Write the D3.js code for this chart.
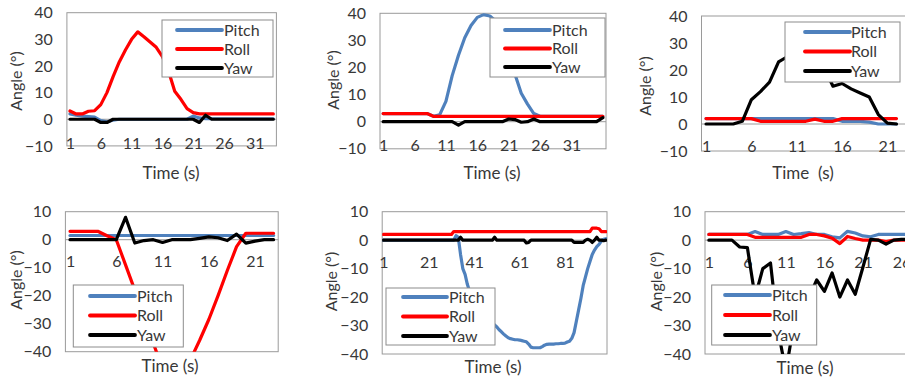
<!DOCTYPE html>
<html><head><meta charset="utf-8">
<script src="https://cdn.jsdelivr.net/npm/d3@7"></script>
<style>
html,body{margin:0;padding:0;background:#fff;}
svg{display:block;font-family:Lato,"Open Sans",sans-serif;}
</style></head><body>
<svg id="chart" width="905" height="379"></svg>
<script>
// ---------------- data ----------------
const seriesNames = ["Pitch", "Roll", "Yaw"];
const seriesColors = ["#4f81bd", "#ff0000", "#000000"];
const yTicksTop = [-10, 0, 10, 20, 30, 40];
const yTicksBottom = [-40, -30, -20, -10, 0, 10];
const xTicks1 = [1, 6, 11, 16, 21, 26, 31];
const xTicks2 = [1, 6, 11, 16, 21, 26, 31];
const xTicks3 = [1, 6, 11, 16, 21];
const xTicks4 = [1, 6, 11, 16, 21];
const xTicks5 = [1, 21, 41, 61, 81];
const xTicks6 = [1, 6, 11, 16, 21, 26];
const xTitles = ["Time (s)", "Time (s)", "Time  (s)", "Time (s)", "Time (s)", "Time (s)"];
const yTitle = "Angle (°)";

const pitch1 = [2,1.5,1.2,1,0.8,-0.5,-1,-0.3,0,0,0,0,0,0,0,0,0,0,0,0,1.2,0.5,0.2,0.2,0.2,0.2,0.2,0.2,0.2,0.2,0.2,0.2,0.2,0.2];
const roll1  = [3.1,2,2,3,3.2,5.5,10,16,21.5,26,30,32.8,31,29,27,23.5,18,10.5,7.5,4,2.5,2,2,2,2,2,2,2,2,2,2,2,2,2];
const yaw1   = [0,0,0,0,0,-1.2,-1.2,0,0,0,0,0,0,0,0,0,0,0,0,0,0,-1.2,1.5,0,0,0,0,0,0,0,0,0,0,0];

const pitch2 = [3,3,3,3,3,3,3,3,2,2.5,7.5,17,24.5,31,35.5,38.5,39.5,39,37,32.5,26,17.5,10.5,6.5,3,2,2,2,2,2,2,2,2,2,2,2];
const roll2  = [3,3,3,3,3,3,3,3,2,2,2,2,2,2,2,2,2,2,2,2,2,2,2,2,2,2,2,2,2,2,2,2,2,2,2,2];
const yaw2   = [0,0,0,0,0,0,0,0,0,0,0,0,-1.3,0,0,0,0,0,0,0,1,0.8,-0.2,0,1,0,0,0,0,0,0,0,0,0,0,1.5];

const pitch3 = [2,2,2,2,2,2,2,2,2,2,2,2,2,2,2,1,1,1,0.7,0,0,0];
const roll3  = [2,2,2,2,2,2,1,1,1,1,1,1,1.8,1,1,2,2,2,2,2,2,2];
const yaw3   = [0,0,0,0,1,9,12,15.5,23,25,27,27.5,25,21,14,15,13,11.5,10,3.5,0.3,0];

const pitch4 = [1.5,1.5,1.5,1.5,1.5,1.5,1.5,1.5,1.5,1.5,1.5,1.5,1.5,1.5,1.5,1.5,1.5,1.5,1.5,1.5,1.5,1.5,1.5];
const roll4  = [3,3,3,3,1.4,0,-9,-18,-27,-37,-46,-50,-49,-43,-36,-28.5,-20,-11,-2.5,2.3,2.3,2.3,2.3];
const yaw4   = [0,0,0,0,0,0,8,-1.2,-0.3,0,-1,0,0,0,0.5,1,0.7,-0.3,2,-1.2,-0.5,0,0];

const pitch5 = [
  0,0,0,0,0,0,0,0,0,0,
  0,0,0,0,0,0,0,0,0,0,
  0,0,0,0,0,0,0,0,0,0,
  0,0,1.6,1,-5,-10,-12,-15.5,-18,-19.5,
  -21,-22,-23,-24,-25,-26,-27,-28,-29,-29.8,
  -30.5,-31.5,-32.2,-33,-33.7,-34.3,-34.6,-34.8,-35,-35,
  -35.1,-35.3,-35.5,-35.7,-36.5,-37.6,-37.8,-37.8,-37.8,-37.8,
  -37.4,-36.9,-36.6,-36.5,-36.5,-36.5,-36.4,-36.4,-36.3,-36.3,
  -36.2,-35.8,-35.5,-34.5,-32.5,-28.5,-24.5,-20.5,-16,-13,
  -10,-7.5,-5,-3.5,-2.3,-1.5,-0.3,0.3,0.5];
const roll5 = [
  2,2,2,2,2,2,2,2,2,2,
  2,2,2,2,2,2,2,2,2,2,
  2,2,2,2,2,2,2,2,2,2,
  2,3,3,3,3,3,3,3,3,3,
  3,3,3,3,3,3,3,3,3,3,
  3,3,3,3,3,3,3,3,3,3,
  3,3,3,3,3,3,3,3,3,3,
  3,3,3,3,3,3,3,3,3,3,
  3,3,3,3,3,3,3,3,3,3,
  3,3,4.2,4.2,4.2,4,3,3,3];
const yaw5 = [
  0,0,0,0,0,0,0,0,0,0,
  0,0,0,0,0,0,0,0,0,0,
  0,0,0,0,0,0,0,0,0,0,
  0,0,0,0,1,0,0,0,0,0,
  0,0,0,0,0,0,0,0,0,1,
  0,0,0,0,0,0,0,0,0,0,
  0,0,0,-1,-0.8,0,0,0,0,0,
  0,0,0,0,0,0,0,0,0,0,
  0,0,0,0,-0.8,-0.8,-0.8,-0.8,-0.8,0,
  0.3,0,-0.8,0,1,0,0,-0.2,0];

const pitch6 = [2,2,2,2,2,2,3,2,2,2,3,2,2.3,2.7,2,2,1.2,0.8,3.1,2.5,1.5,1.2,2,2,2,2,2];
const roll6  = [2,2,2,2,2,2,1,1,1,1,1,1,1,2,2,1.5,0.7,-1.2,1.3,0.6,0,0,0,-0.5,0,0,0];
const yaw6   = [0,0,0,0,-2.4,-2.6,-20,-10,-8,-32,-46,-30,-25,-20,-14,-18,-11.5,-20,-14,-19,-9.5,0.3,0,-1.4,0,0.3,0.3];

// ---------------- layout ----------------
const panels = [
  {series:[pitch1,roll1,yaw1], xTicks:xTicks1, yTicks:yTicksTop,
   box:{l:66.9,r:276.4,t:12.7,b:145.9}, borderR:276.4, xPad:18,
   leg:{x:162,y:20,w:111,h:57,rows:[30,49,68],s1:177,s2:222,tx:224},
   xt:[171,173], yt:[16.5,81]},
  {series:[pitch2,roll2,yaw2], xTicks:xTicks2, yTicks:yTicksTop,
   box:{l:380,r:606,t:13.3,b:148.8}, borderR:606, xPad:18,
   leg:{x:490,y:18,w:115,h:59,rows:[30,48.5,67],s1:505,s2:550,tx:552},
   xt:[492,173], yt:[333,80]},
  {series:[pitch3,roll3,yaw3], xTicks:xTicks3, yTicks:yTicksTop,
   box:{l:701.5,r:901,t:16,b:151}, borderR:912, xPad:17,
   leg:{x:785,y:22,w:115,h:60,rows:[32,51.5,71],s1:805,s2:850,tx:851},
   xt:[803,173], yt:[645,86]},
  {series:[pitch4,roll4,yaw4], xTicks:xTicks4, yTicks:yTicksBottom,
   box:{l:65.4,r:278.2,t:211.7,b:351.7}, borderR:278.2, xPad:16,
   leg:{x:73.3,y:285,w:110,h:62,rows:[296,315.5,335],s1:90,s2:135,tx:137},
   xt:[170,366.5], yt:[16.5,280]},
  {series:[pitch5,roll5,yaw5], xTicks:xTicks5, yTicks:yTicksBottom,
   box:{l:382.2,r:607,t:211.7,b:354}, borderR:607, xPad:16,
   leg:{x:386,y:288,w:109,h:57,rows:[297,316.5,336],s1:403,s2:447,tx:449},
   xt:[493,367], yt:[331.5,281.5]},
  {series:[pitch6,roll6,yaw6], xTicks:xTicks6, yTicks:yTicksBottom,
   box:{l:705,r:913,t:211.7,b:354}, borderR:913, xPad:16,
   leg:{x:711.7,y:285,w:105,h:60,rows:[295,315,335],s1:725,s2:770,tx:772},
   xt:[805,368], yt:[656.5,281.5]}
];

const svg = d3.select("#chart");
const FONT = 'Lato,"Open Sans",sans-serif';
const TXT = "#383838";
const TICK_FS = 16, LEG_FS = 16, TITLE_FS = 17;

panels.forEach((p, pi) => {
  const N = p.series[0].length;
  const cats = d3.range(1, N + 1);
  const x = d3.scalePoint().domain(cats).range([p.box.l, p.box.r]).padding(0.5);
  const y = d3.scaleLinear().domain(d3.extent(p.yTicks)).range([p.box.b, p.box.t]);
  const g = svg.append("g");

  const clipId = "clip" + pi;
  svg.append("clipPath").attr("id", clipId).append("rect")
    .attr("x", p.box.l).attr("y", p.box.t)
    .attr("width", p.borderR - p.box.l).attr("height", p.box.b - p.box.t);

  // plot area border
  g.append("rect").attr("x", p.box.l).attr("y", p.box.t)
    .attr("width", p.borderR - p.box.l).attr("height", p.box.b - p.box.t)
    .attr("fill", "none").attr("stroke", "#9a9a9a").attr("stroke-width", 1);

  // zero (category) axis line
  g.append("line").attr("x1", p.box.l).attr("x2", p.borderR)
    .attr("y1", y(0)).attr("y2", y(0))
    .attr("stroke", "#9a9a9a").attr("stroke-width", 1);

  // y axis
  const ya = g.append("g").attr("transform", `translate(${p.box.l},0)`)
    .call(d3.axisLeft(y).tickValues(p.yTicks).tickSize(0).tickPadding(14).tickFormat(d3.format("d")));
  ya.select(".domain").remove();
  ya.selectAll("text").attr("font-size", TICK_FS).attr("font-family", FONT).attr("fill", TXT);

  // x axis (labels next to the zero line)
  const xa = g.append("g").attr("transform", `translate(0,${y(0)})`)
    .call(d3.axisBottom(x).tickValues(p.xTicks).tickSize(0).tickPadding(p.xPad));
  xa.select(".domain").remove();
  xa.selectAll("text").attr("font-size", TICK_FS).attr("font-family", FONT).attr("fill", TXT);

  // series
  const line = d3.line().x((d, i) => x(cats[i])).y(d => y(d)).curve(d3.curveLinear);
  const sg = g.append("g").attr("clip-path", `url(#${clipId})`);
  p.series.forEach((s, si) => {
    sg.append("path").datum(s).attr("d", line)
      .attr("fill", "none").attr("stroke", seriesColors[si])
      .attr("stroke-width", 3.2).attr("stroke-linejoin", "round").attr("stroke-linecap", "round");
  });

  // legend
  const lg = g.append("g");
  lg.append("rect").attr("x", p.leg.x).attr("y", p.leg.y).attr("width", p.leg.w).attr("height", p.leg.h)
    .attr("fill", "#fff").attr("stroke", "#8c8c8c").attr("stroke-width", 1);
  seriesNames.forEach((nm, si) => {
    const ry = p.leg.rows[si];
    lg.append("line").attr("x1", p.leg.s1).attr("x2", p.leg.s2).attr("y1", ry).attr("y2", ry)
      .attr("stroke", seriesColors[si]).attr("stroke-width", 3.8).attr("stroke-linecap", "round");
    lg.append("text").attr("x", p.leg.tx).attr("y", ry).attr("dy", "0.35em")
      .attr("font-size", LEG_FS).attr("font-family", FONT).attr("fill", TXT).text(nm);
  });

  // axis titles
  g.append("text").attr("x", p.xt[0]).attr("y", p.xt[1]).attr("dy", "0.35em")
    .attr("text-anchor", "middle").attr("font-size", TITLE_FS).attr("font-family", FONT)
    .attr("fill", TXT).style("white-space", "pre").text(xTitles[pi]);
  g.append("text").attr("transform", `translate(${p.yt[0]},${p.yt[1]}) rotate(-90)`)
    .attr("dy", "0.35em").attr("text-anchor", "middle").attr("font-size", 16)
    .attr("font-family", FONT).attr("fill", TXT).text(yTitle);
});
</script>
</body></html>
